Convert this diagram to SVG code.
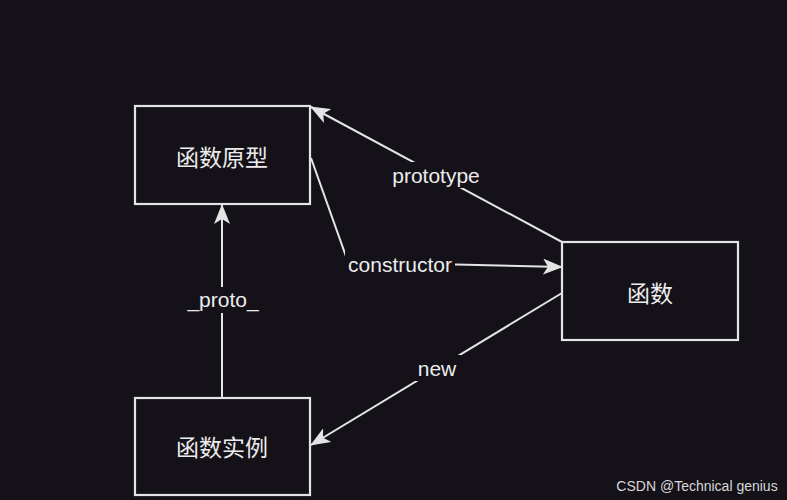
<svg xmlns="http://www.w3.org/2000/svg" width="787" height="500" viewBox="0 0 787 500">
<style>
.node rect{fill:#141119;stroke:#e4e4e4;stroke-width:2.2}
.node text{fill:#ececec;font-family:"Noto Sans CJK SC","Liberation Sans",sans-serif;font-size:23px;text-anchor:middle;dominant-baseline:central}
.edge{fill:none;stroke:#e4e4e4;stroke-width:2}
.lbl{fill:#ececec;font-family:"Liberation Sans",Arial,sans-serif;font-size:21px;text-anchor:middle;dominant-baseline:central}
.lblbg{fill:#141119}
</style>
<defs>
<marker id="arr" viewBox="0 0 20 16" refX="19" refY="8" markerWidth="20" markerHeight="16" markerUnits="userSpaceOnUse" orient="auto">
<path d="M0,0 L20,8 L0,16 L5,8 Z" fill="#e4e4e4"/>
</marker>
</defs>
<rect width="787" height="500" fill="#141119"/>
<g id="connectors">
<path class="edge" d="M562,242 L311,107" marker-end="url(#arr)"/>
<path class="edge" d="M311,158 L348,262 L562,267" marker-end="url(#arr)"/>
<path class="edge" d="M222,398 L222,205" marker-end="url(#arr)"/>
<path class="edge" d="M562,293 L311,445" marker-end="url(#arr)"/>
<rect class="lblbg" x="390" y="162" width="94" height="26"/>
<text class="lbl" x="436" y="175">prototype</text>
<rect class="lblbg" x="345" y="251" width="110" height="26"/>
<text class="lbl" x="400" y="264">constructor</text>
<rect class="lblbg" x="184" y="287" width="78" height="26"/>
<text class="lbl" x="223" y="299">_proto_</text>
<rect class="lblbg" x="413" y="355" width="48" height="26"/>
<text class="lbl" x="437" y="368">new</text>
</g>
<g id="node-prototype" class="node">
<rect x="135" y="106" width="175" height="98"/>
<text x="222" y="156">函数原型</text>
</g>
<g id="node-function" class="node">
<rect x="562" y="242" width="176" height="98"/>
<text x="650" y="292">函数</text>
</g>
<g id="node-instance" class="node">
<rect x="135" y="398" width="175" height="97"/>
<text x="222" y="446">函数实例</text>
</g>
<text x="697" y="486" fill="#d8d8d8" font-family="Liberation Sans,Arial,sans-serif" font-size="14" text-anchor="middle" dominant-baseline="central">CSDN @Technical genius</text>
</svg>
